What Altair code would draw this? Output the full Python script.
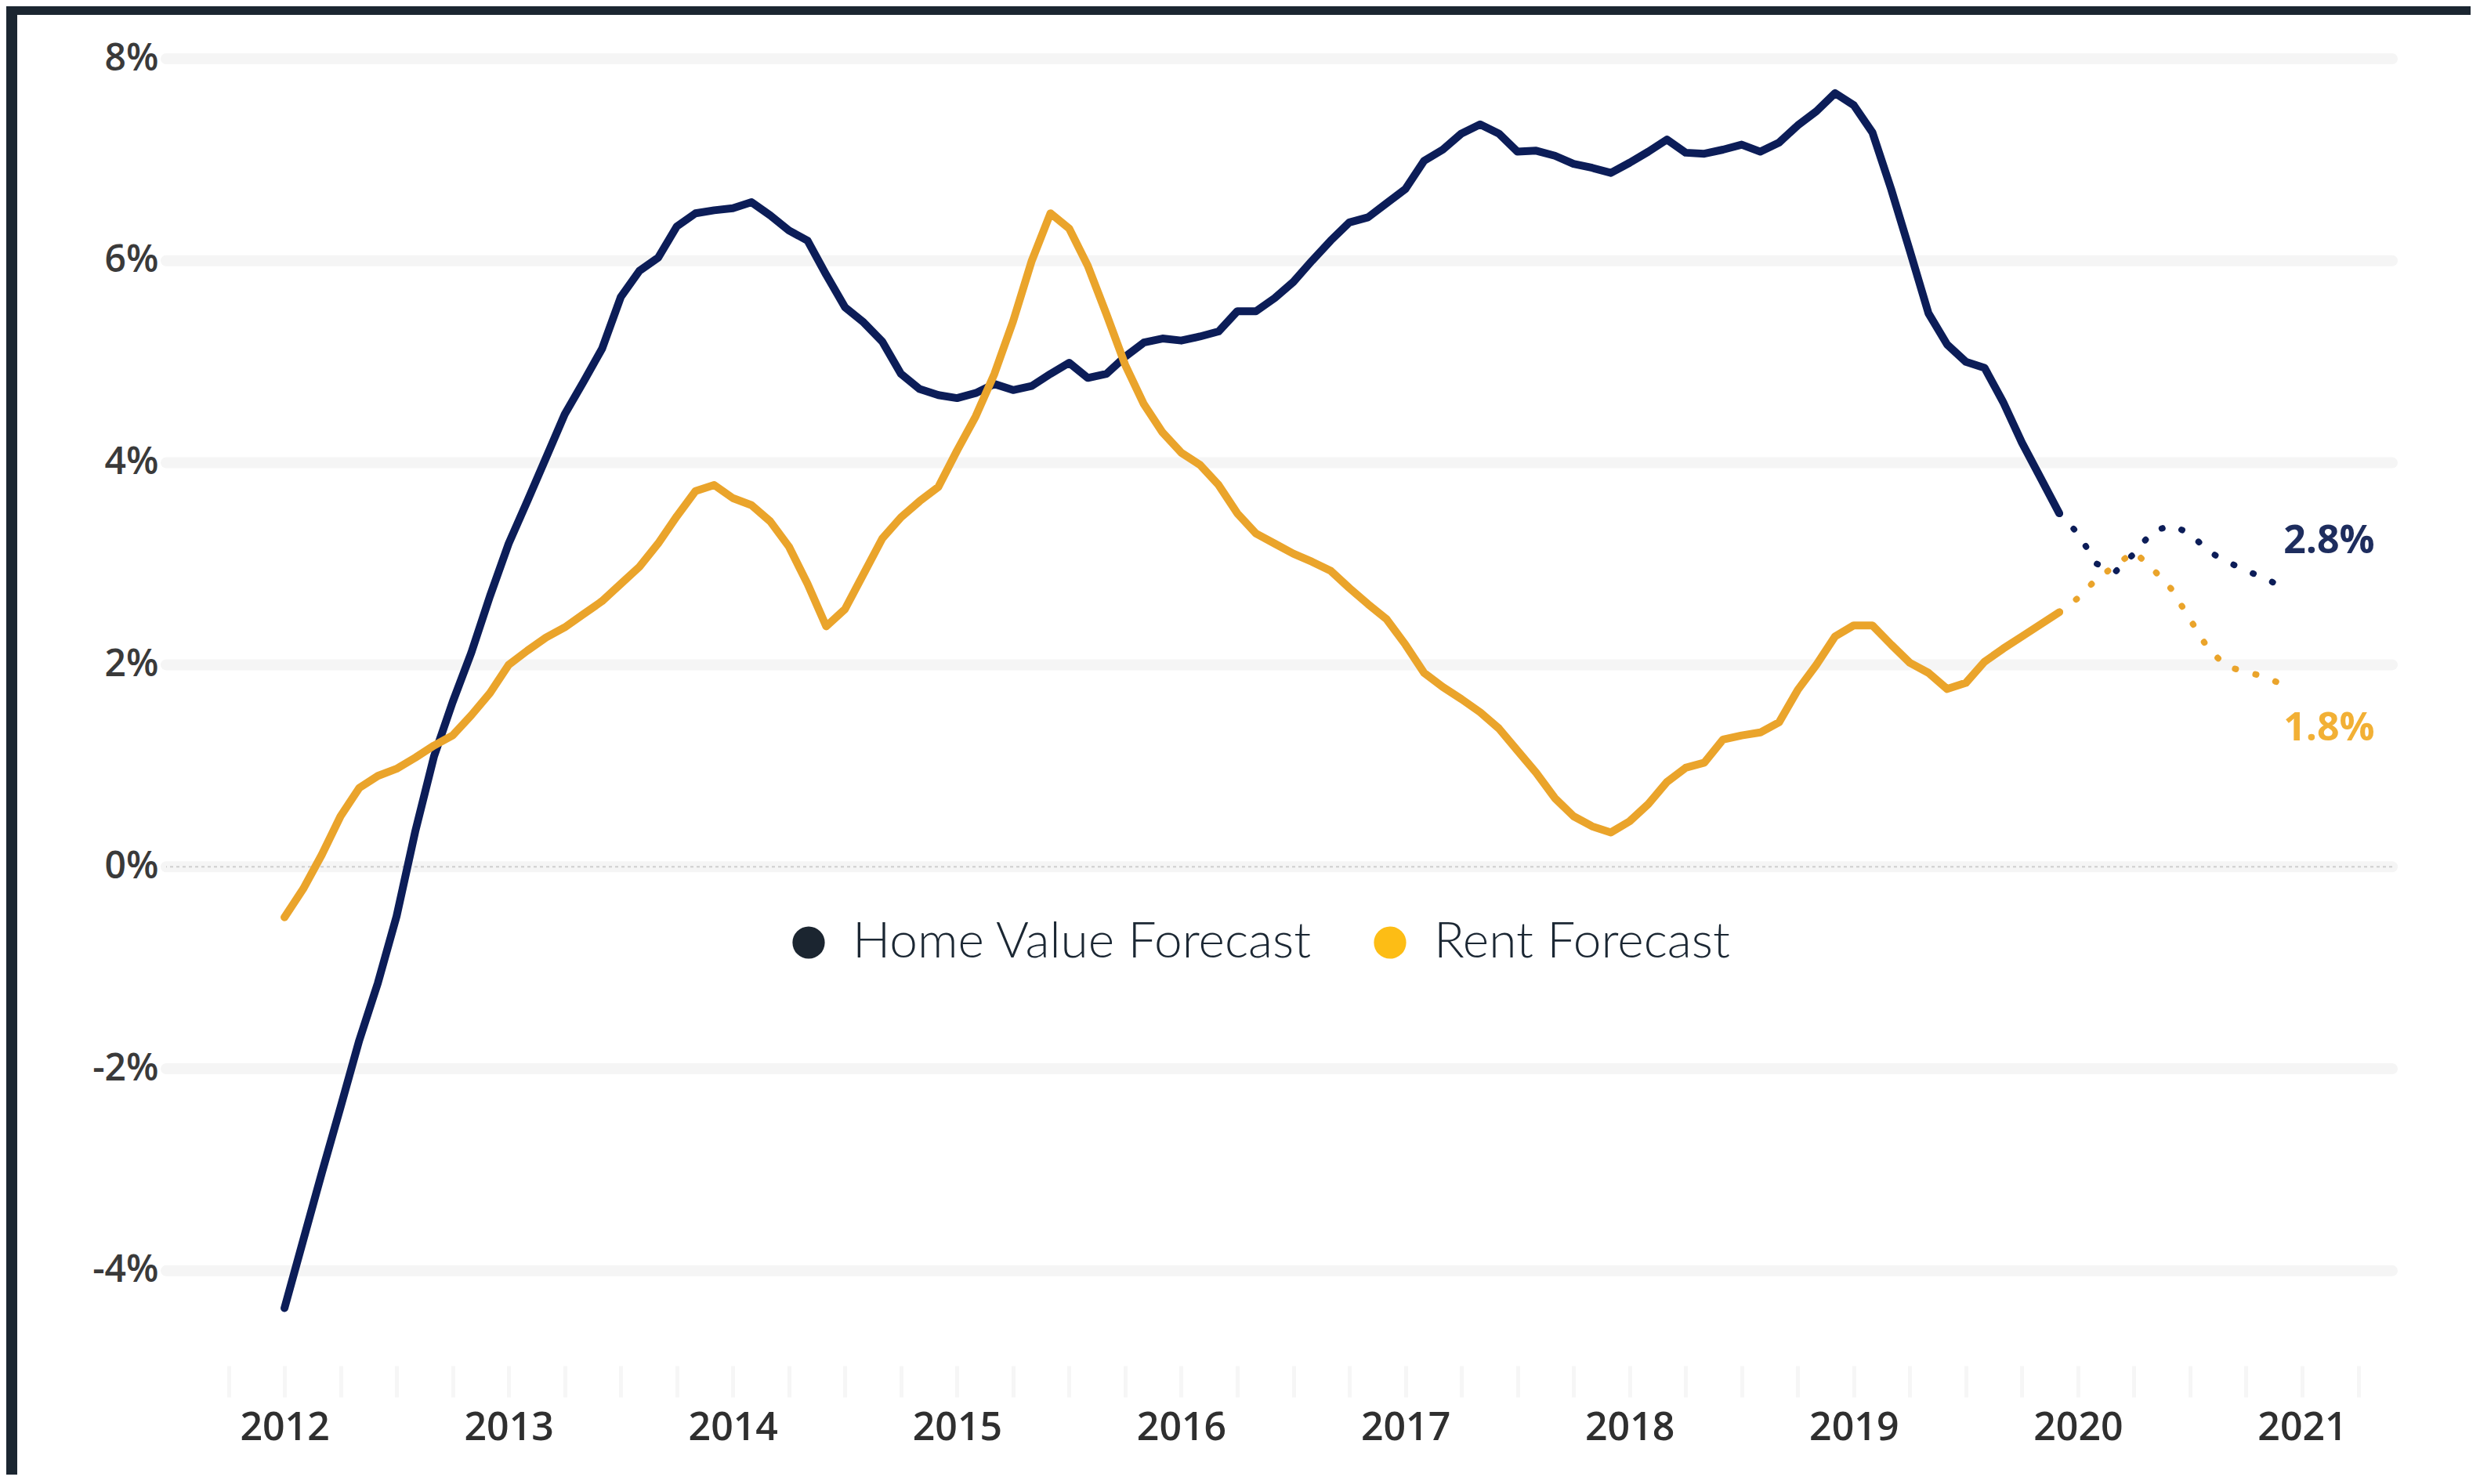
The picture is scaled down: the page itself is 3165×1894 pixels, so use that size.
import altair as alt
import pandas as pd

# ---------------- data ----------------
start_year = 2012  # monthly values, Jan 2012 .. Dec 2019
home_value = [
    -4.37, -3.70, -3.03, -2.38, -1.72, -1.15, -0.49, 0.35, 1.09, 1.63, 2.12, 2.68,   # 2012
    3.20, 3.62, 4.05, 4.48, 4.80, 5.13, 5.64, 5.90, 6.03, 6.34, 6.47, 6.50,          # 2013
    6.52, 6.58, 6.45, 6.30, 6.20, 5.86, 5.54, 5.39, 5.20, 4.88, 4.73, 4.67,          # 2014
    4.64, 4.69, 4.78, 4.72, 4.76, 4.88, 4.99, 4.84, 4.88, 5.05, 5.19, 5.23,          # 2015
    5.21, 5.25, 5.30, 5.50, 5.50, 5.63, 5.79, 6.00, 6.20, 6.38, 6.43, 6.57,          # 2016
    6.71, 6.99, 7.10, 7.26, 7.35, 7.26, 7.08, 7.09, 7.04, 6.96, 6.92, 6.87,          # 2017
    6.97, 7.08, 7.20, 7.07, 7.06, 7.10, 7.15, 7.08, 7.17, 7.34, 7.48, 7.66,          # 2018
    7.54, 7.27, 6.71, 6.10, 5.48, 5.17, 5.00, 4.94, 4.60, 4.20, 3.85, 3.50,          # 2019
]
rent = [
    -0.50, -0.22, 0.12, 0.50, 0.78, 0.90, 0.97, 1.08, 1.20, 1.30, 1.50, 1.72,        # 2012
    2.00, 2.14, 2.27, 2.37, 2.50, 2.63, 2.80, 2.97, 3.20, 3.47, 3.72, 3.78,          # 2013
    3.65, 3.58, 3.42, 3.17, 2.80, 2.38, 2.55, 2.90, 3.25, 3.46, 3.62, 3.76,          # 2014
    4.12, 4.46, 4.88, 5.40, 6.00, 6.47, 6.32, 5.95, 5.47, 4.97, 4.58, 4.30,          # 2015
    4.10, 3.98, 3.78, 3.50, 3.30, 3.20, 3.10, 3.02, 2.93, 2.76, 2.60, 2.45,          # 2016
    2.20, 1.92, 1.78, 1.66, 1.53, 1.37, 1.15, 0.93, 0.68, 0.50, 0.40, 0.34,          # 2017
    0.45, 0.62, 0.84, 0.98, 1.03, 1.26, 1.30, 1.33, 1.43, 1.75, 2.00, 2.28,          # 2018
    2.39, 2.39, 2.20, 2.02, 1.92, 1.76, 1.82, 2.03, 2.16, 2.28, 2.40, 2.52,          # 2019
]
# forecast: Dec 2019 .. Dec 2020 (monthly)
forecast_start = 2019 + 11 / 12
forecast_home = [3.50, 3.30, 3.00, 2.92, 3.10, 3.32, 3.38, 3.30, 3.12, 3.02, 2.93, 2.86, 2.76]
forecast_rent = [2.52, 2.66, 2.85, 2.98, 3.12, 2.95, 2.75, 2.45, 2.15, 1.98, 1.93, 1.88, 1.80]

series_names = ["Home Value Forecast", "Rent Forecast"]
end_labels = ["2.8%", "1.8%"]
y_ticks = [-4, -2, 0, 2, 4, 6, 8]
x_ticks = [2011.75 + 0.25 * k for k in range(39)]  # quarterly tick marks, years labelled

line_colors = ["#0c1d58", "#eaa42b"]
legend_colors = ["#1b2530", "#fdbd15"]
label_colors = ["#1e2d5e", "#f2b035"]

# ---------------- tables ----------------
rows = []
for i, (h, r) in enumerate(zip(home_value, rent)):
    t = start_year + i / 12
    rows.append({"t": t, "value": h, "series": series_names[0]})
    rows.append({"t": t, "value": r, "series": series_names[1]})
actual = pd.DataFrame(rows)

frows = []
for i, (h, r) in enumerate(zip(forecast_home, forecast_rent)):
    t = forecast_start + i / 12
    frows.append({"t": t, "value": h, "series": series_names[0]})
    frows.append({"t": t, "value": r, "series": series_names[1]})
forecast = pd.DataFrame(frows)

legend_df = pd.DataFrame({"t": [start_year, start_year], "value": [home_value[0], rent[0]],
                          "key": series_names})

last_t = forecast_start + (len(forecast_home) - 1) / 12
home_lbl = pd.DataFrame({"t": [last_t], "value": [forecast_home[-1]], "label": [end_labels[0]]})
rent_lbl = pd.DataFrame({"t": [last_t], "value": [forecast_rent[-1]], "label": [end_labels[1]]})
grid_df = pd.DataFrame({"v": y_ticks})
zero_df = pd.DataFrame({"v": [0]})

# ---------------- scales / axes ----------------
W, H = 2841, 1668
x_scale = alt.Scale(domain=[2011.472, 2021.402], nice=False, zero=False)
y_scale = alt.Scale(domain=[-4.94, 8], nice=False, zero=False)

y_axis = alt.Axis(values=y_ticks, labelExpr="datum.value + '%'", grid=False, domain=False,
                  ticks=False, labelPadding=10, labelFont="Open Sans", labelFontSize=48,
                  labelFontWeight=600, labelColor="#3a3a3a", zindex=1, title=None)
x_axis = alt.Axis(values=x_ticks,
                  labelExpr="datum.value % 1 == 0 ? format(datum.value, 'd') : ''",
                  grid=False, domain=False, ticks=True, tickColor="#f6f6f6", tickWidth=5,
                  tickSize=40, labelPadding=14, labelFont="Open Sans", labelFontSize=50,
                  labelFontWeight=600, labelColor="#2f2f2f", labelOverlap=False,
                  labelFlush=False, zindex=1, title=None)

X = alt.X("t:Q", scale=x_scale, axis=x_axis, title=None)
Y = alt.Y("value:Q", scale=y_scale, axis=y_axis, title=None)

stroke_enc = alt.Stroke("series:N", scale=alt.Scale(domain=series_names, range=line_colors),
                        legend=None)

# ---------------- layers ----------------
panel = alt.Chart(alt.Data(values=[{}])).mark_rect(color="white").encode(
    x=alt.value(-190), x2=alt.value(W + 400), y=alt.value(-56), y2=alt.value(H + 400)
)

grid = alt.Chart(grid_df).mark_rule(color="#f5f5f5", strokeWidth=14, strokeCap="round").encode(
    y=alt.Y("v:Q", scale=y_scale, axis=y_axis, title=None)
)
zero = alt.Chart(zero_df).mark_rule(color="#cfcfcf", strokeWidth=2, strokeDash=[4, 4]).encode(
    y=alt.Y("v:Q", scale=y_scale, axis=y_axis, title=None)
)

lines = alt.Chart(actual).mark_line(strokeWidth=10, strokeJoin="round", strokeCap="round").encode(
    x=X, y=Y, stroke=stroke_enc, detail="series:N"
)
flines = alt.Chart(forecast).mark_line(strokeWidth=8, strokeCap="round",
                                       strokeDash=[1, 26]).encode(
    x=X, y=Y, stroke=stroke_enc, detail="series:N"
)

legend_pts = alt.Chart(legend_df).mark_point(filled=True, opacity=0, size=1).encode(
    x=X, y=Y,
    fill=alt.Fill("key:N", scale=alt.Scale(domain=series_names, range=legend_colors),
                  legend=alt.Legend(title=None, orient="none", legendX=788, legendY=1096,
                                    direction="horizontal", symbolType="circle",
                                    symbolSize=1700, symbolOpacity=1, symbolStrokeWidth=0,
                                    labelFont="Lato", labelFontSize=64, labelFontWeight=300,
                                    labelColor="#1b2733", labelOffset=24, columnPadding=66,
                                    padding=0, labelLimit=0)),
)

home_text = alt.Chart(home_lbl).mark_text(align="left", baseline="middle", dx=0, dy=-59,
                                          font="Open Sans", fontSize=50, fontWeight="bold",
                                          color=label_colors[0]).encode(
    x=X, y=Y, text="label:N"
)
rent_text = alt.Chart(rent_lbl).mark_text(align="left", baseline="middle", dx=0, dy=56,
                                          font="Open Sans", fontSize=50, fontWeight="bold",
                                          color=label_colors[1]).encode(
    x=X, y=Y, text="label:N"
)

chart = alt.layer(panel, grid, zero, lines, flines, legend_pts, home_text, rent_text).properties(
    width=W, height=H,
    autosize=alt.AutoSizeParams(type="none"),
    padding={"left": 204, "top": 67, "right": 100, "bottom": 139},
    background="#1b2631",
).resolve_scale(fill="independent", stroke="independent").configure_view(stroke=None)

chart.save("out.html", embed_options={"renderer": "svg", "actions": False})
